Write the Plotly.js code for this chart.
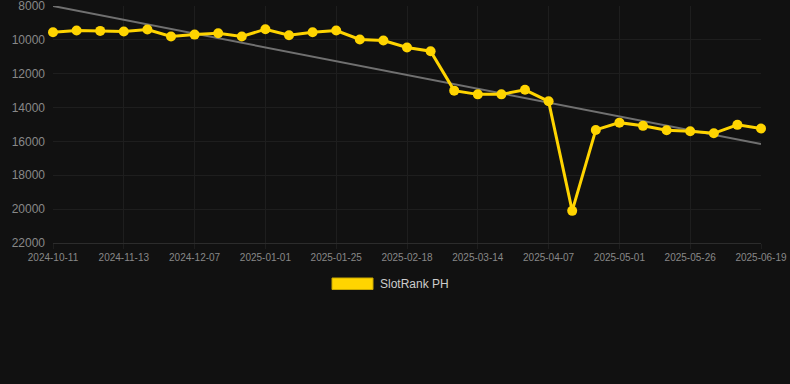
<!DOCTYPE html>
<html>
<head>
<meta charset="utf-8">
<script src="https://cdn.plot.ly/plotly-3.0.1.min.js"></script>
<style>
html,body{margin:0;padding:0;background:#111111;}
#chart{width:790px;height:384px;}
</style>
</head>
<body>
<div id="chart"></div>
<script>
const dates = [
  "2024-10-11","2024-10-22","2024-11-02","2024-11-13","2024-11-21","2024-11-29",
  "2024-12-07","2024-12-15","2024-12-23","2025-01-01","2025-01-09","2025-01-17",
  "2025-01-25","2025-02-02","2025-02-10","2025-02-18","2025-02-26","2025-03-06",
  "2025-03-14","2025-03-22","2025-03-30","2025-04-07","2025-04-15","2025-04-23",
  "2025-05-01","2025-05-09","2025-05-17","2025-05-26","2025-06-03","2025-06-11",
  "2025-06-19"
];
const ranks = [
  9550, 9450, 9470, 9510, 9390, 9800,
  9690, 9610, 9800, 9370, 9730, 9550,
  9450, 9980, 10040, 10450, 10670, 13000,
  13220, 13220, 12950, 13630, 20100, 15320,
  14890, 15080, 15340, 15400, 15520, 15020,
  15240
];
const tickDates = ["2024-10-11","2024-11-13","2024-12-07","2025-01-01","2025-01-25","2025-02-18","2025-03-14","2025-04-07","2025-05-01","2025-05-26","2025-06-19"];
const trendDates = ["2024-10-11","2025-06-19"];
const trendValues = [8000, 16150];
const yTicks = [8000,10000,12000,14000,16000,18000,20000,22000];
const seriesName = "SlotRank PH";

const traces = [
  {
    x: trendDates, y: trendValues, type: 'scatter', mode: 'lines',
    line: {color: '#707070', width: 2}, showlegend: false, hoverinfo: 'skip'
  },
  {
    x: dates, y: ranks, type: 'scatter', mode: 'lines+markers',
    line: {color: '#ffd400', width: 3},
    marker: {color: '#ffd400', size: 10},
    cliponaxis: false, showlegend: false, name: seriesName
  }
];

const layout = {
  width: 790, height: 384,
  paper_bgcolor: '#111111', plot_bgcolor: '#111111',
  margin: {l: 53, r: 29, t: 6, b: 141},
  font: {family: '"Liberation Sans", Arial, sans-serif', color: '#888888'},
  xaxis: {
    type: 'category', categoryorder: 'array', categoryarray: dates,
    range: [0, 30],
    tickmode: 'array', tickvals: tickDates, ticktext: tickDates,
    tickfont: {size: 10, color: '#888888'},
    showgrid: true, gridcolor: '#1e1e1e',
    showline: true, linecolor: '#2c2c2c', linewidth: 1,
    ticks: 'outside', ticklen: 5, tickcolor: '#1e1e1e',
    zeroline: false, fixedrange: true
  },
  yaxis: {
    range: [22000, 8000],
    tickmode: 'array', tickvals: yTicks, ticktext: yTicks.map(String),
    tickfont: {size: 12, color: '#888888'},
    ticklabeloverflow: 'allow', ticklabelstandoff: 7,
    showgrid: true, gridcolor: '#1e1e1e',
    zeroline: false, showline: false, ticks: '', fixedrange: true
  },
  showlegend: false,
  shapes: [
    {type: 'rect', xref: 'paper', yref: 'paper',
     x0: (332 - 53) / 708, x1: (373 - 53) / 708,
     y0: -(289.5 - 243) / 237, y1: -(278 - 243) / 237,
     fillcolor: '#ffd400', line: {color: '#c9a800', width: 1}}
  ],
  annotations: [
    {text: seriesName, xref: 'paper', yref: 'paper',
     x: (378 - 53) / 708, xanchor: 'left',
     y: -(284 - 243) / 237, yanchor: 'middle',
     showarrow: false, font: {size: 12, color: '#cccccc'}}
  ]
};

Plotly.newPlot('chart', traces, layout, {displayModeBar: false, staticPlot: true});
</script>
</body>
</html>
